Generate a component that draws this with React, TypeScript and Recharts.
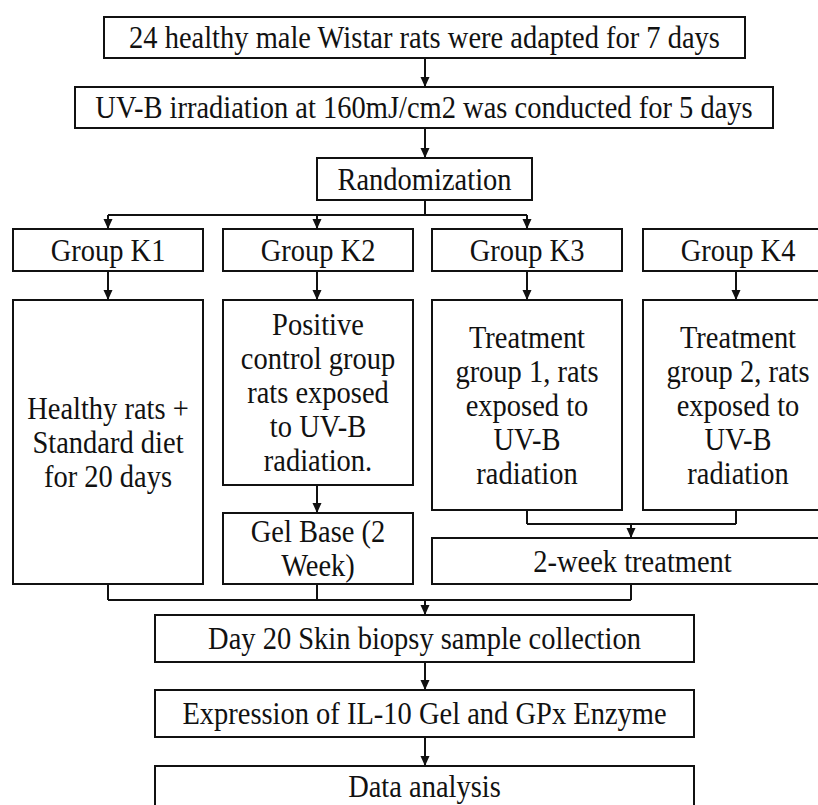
import React from "react";
import {
  ComposedChart,
  XAxis,
  YAxis,
  Scatter,
  ReferenceArea,
  ReferenceLine,
  Label,
} from "recharts";

const W = 818;
const H = 805;
const INK = "#111";
const FONT = "'Liberation Serif', 'Times New Roman', serif";

// boxes of the flow diagram (diagram units = page pixels)
const boxLabels = [
  "24 healthy male Wistar rats were adapted for 7 days",
  "UV-B irradiation at 160mJ/cm2 was conducted for 5 days",
  "Randomization",
  "Group K1",
  "Group K2",
  "Group K3",
  "Group K4",
  "Healthy rats +\nStandard diet\nfor 20 days",
  "Positive\ncontrol group\nrats exposed\nto UV-B\nradiation.",
  "Treatment\ngroup 1, rats\nexposed to\nUV-B\nradiation",
  "Treatment\ngroup 2, rats\nexposed to\nUV-B\nradiation",
  "Gel Base (2\nWeek)",
  "2-week treatment",
  "Day 20 Skin biopsy sample collection",
  "Expression of IL-10 Gel and GPx Enzyme",
  "Data analysis",
];
const boxX = [
  [104, 745], [75, 773], [317, 532],
  [13, 203], [223, 413], [432, 622], [643, 833],
  [13, 203], [223, 413], [432, 622], [643, 833],
  [223, 413], [432, 833],
  [155, 694], [155, 694], [155, 694],
];
const boxY = [
  [17, 58], [87, 128], [158, 200],
  [229, 271], [229, 271], [229, 271], [229, 271],
  [300, 584], [300, 485], [300, 510], [300, 510],
  [513, 584], [538, 584],
  [615, 662], [690, 737], [766, 806],
];

// connector segments [x1, y1, x2, y2]
const links = [
  [425, 58, 425, 87],
  [425, 128, 425, 158],
  [425, 200, 425, 215],
  [108, 215, 527, 215],
  [108, 215, 108, 229],
  [317, 215, 317, 229],
  [527, 215, 527, 229],
  [108, 271, 108, 300],
  [317, 271, 317, 300],
  [527, 271, 527, 300],
  [736, 271, 736, 300],
  [317, 485, 317, 513],
  [527, 510, 527, 524],
  [736, 510, 736, 524],
  [527, 524, 736, 524],
  [631, 524, 631, 538],
  [108, 584, 108, 600],
  [317, 584, 317, 600],
  [631, 584, 631, 600],
  [108, 600, 631, 600],
  [425, 600, 425, 615],
  [425, 662, 425, 690],
  [425, 737, 425, 766],
];

// arrow heads (tip positions)
const arrowTips = [
  { x: 425, y: 87 },
  { x: 425, y: 158 },
  { x: 108, y: 229 },
  { x: 317, y: 229 },
  { x: 527, y: 229 },
  { x: 108, y: 300 },
  { x: 317, y: 300 },
  { x: 527, y: 300 },
  { x: 736, y: 300 },
  { x: 317, y: 513 },
  { x: 631, y: 538 },
  { x: 425, y: 615 },
  { x: 425, y: 690 },
  { x: 425, y: 766 },
];

const LINE_GAP = 34;
const STRETCH = 1.12; // the source lettering is a bit taller than plain Times

const BoxText = ({ viewBox, text }: any) => {
  if (!viewBox) return null;
  const { x, y, width, height } = viewBox;
  const lines = text.split("\n");
  const cx = x + width / 2;
  const cy = y + height / 2;
  const gap = LINE_GAP / STRETCH;
  const start = -((lines.length - 1) * gap) / 2;
  return (
    <g transform={`translate(${cx},${cy}) scale(1,${STRETCH})`}>
      <text
        x={0}
        textAnchor="middle"
        dominantBaseline="central"
        fontFamily={FONT}
        fontSize={28.5}
        fill={INK}
      >
        {lines.map((ln: string, i: number) => (
          <tspan key={i} x={0} y={start + i * gap}>
            {ln}
          </tspan>
        ))}
      </text>
    </g>
  );
};

const ArrowHead = (props: any) => {
  const { cx, cy } = props;
  if (cx == null || cy == null) return null;
  return (
    <polygon
      points={`${cx - 4.5},${cy - 10} ${cx + 4.5},${cy - 10} ${cx},${cy}`}
      fill={INK}
    />
  );
};

const App: React.FC = () => {
  return (
    <div
      style={{
        position: "absolute",
        left: 0,
        top: 0,
        width: W,
        height: H,
        background: "#fff",
        overflow: "hidden",
      }}
    >
      <ComposedChart
        width={W}
        height={H}
        margin={{ top: 0, right: 0, bottom: 0, left: 0 }}
      >
        <XAxis type="number" dataKey="x" domain={[0, W]} allowDataOverflow hide />
        <YAxis
          type="number"
          dataKey="y"
          domain={[0, H]}
          reversed
          allowDataOverflow
          hide
          width={0}
        />
        {links.map(([x1, y1, x2, y2], i) => (
          <ReferenceLine
            key={`l-${i}`}
            segment={[
              { x: x1, y: y1 },
              { x: x2, y: y2 },
            ]}
            stroke={INK}
            strokeWidth={2}
            ifOverflow="hidden"
          />
        ))}
        {boxLabels.map((label, i) => (
          <ReferenceArea
            key={`b-${i}`}
            x1={boxX[i][0]}
            x2={boxX[i][1]}
            y1={boxY[i][0]}
            y2={boxY[i][1] > 800 ? 813 : boxY[i][1]}
            fill="#fff"
            fillOpacity={1}
            stroke={INK}
            strokeWidth={2}
            ifOverflow="hidden"
          >
            <Label
              content={(p: any) => (
                <BoxText
                  viewBox={{
                    ...p.viewBox,
                    height: p.viewBox ? boxY[i][1] - boxY[i][0] : 0,
                  }}
                  text={label}
                />
              )}
            />
          </ReferenceArea>
        ))}
        <Scatter
          data={arrowTips}
          dataKey="y"
          shape={<ArrowHead />}
          isAnimationActive={false}
        />
      </ComposedChart>
    </div>
  );
};

export default App;
